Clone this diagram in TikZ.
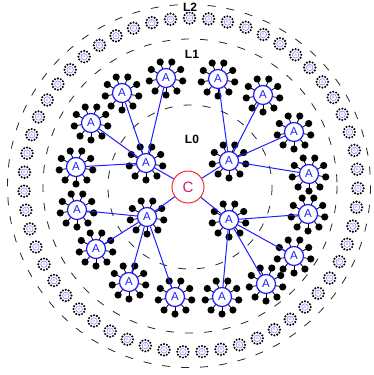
\documentclass[tikz,border=0pt]{standalone}
\usepackage{fontspec}
\setmainfont{Liberation Sans}
\usetikzlibrary{calc}
\definecolor{ablue}{RGB}{30,30,255}
\definecolor{lblue}{RGB}{120,120,255}
\definecolor{cred}{RGB}{255,40,40}
\definecolor{cmag}{RGB}{200,30,110}
\begin{document}
\begin{tikzpicture}[x=1pt,y=-1pt,
  anode/.style={circle,draw=ablue,line width=1.2pt,fill=white,inner sep=0pt,minimum size=19pt,text=ablue,font=\fontsize{11.5}{11.5}\selectfont},
  snode/.style={circle,draw=lblue,line width=0.5pt,fill=white,inner sep=0pt,minimum size=6.5pt,text=lblue,font=\fontsize{3.8}{3.8}\selectfont},
  cnode/.style={circle,draw=cred,line width=1pt,fill=white,minimum size=32pt,inner sep=0pt,text=cmag,font=\fontsize{15}{15}\selectfont},
  link/.style={draw=ablue,line width=1pt},
  spoke/.style={draw=black,line width=0.8pt},
  ring/.style={draw=black!85,line width=0.8pt,dash pattern=on 8pt off 11pt},
  lbl/.style={font=\bfseries\fontsize{12}{12}\selectfont,fill=white,inner sep=1pt}
]
\useasboundingbox (0,0) rectangle (374,375);
% dashed level circles
\draw[ring] (190,187) circle (82);
\draw[ring] (190,186) circle (147);
\draw[ring] (189,186) circle (181.5);
% L2 ring of small nodes
\foreach \i in {0,...,54} {
  \pgfmathsetmacro\ang{90.5+\i*6.545454}
  \coordinate (p\i) at ({191+167*cos(\ang)},{185-167*sin(\ang)});
  \foreach \k in {0,...,11} \fill (p\i) ++(\k*30:5.7) circle (1.15);
  \node[snode] (s\i) at (p\i) {A};
}
% satellites of A nodes
\foreach \x/\y in {146/163,229/161,147/217,229/220,
  166/78,122/93,91/123,76/167,
  218/79,263/95,294/132,309/174,
  77/210,96/249,129/282,175/297,
  308/214,294/256,266/284,222/297} {
  \foreach \k in {0,...,8} {
    \draw[spoke] (\x,\y) ++(10+\k*40:9.5) -- ++(10+\k*40:5);
    \fill (\x,\y) ++(10+\k*40:17) circle (3.6);
  }
}
% centre and A nodes
\node[cnode] (c) at (188,187) {C};
\node[anode] (i1) at (146,163) {A};
\node[anode] (i2) at (229,161) {A};
\node[anode] (i3) at (147,217) {A};
\node[anode] (i4) at (229,220) {A};
\node[anode] (a11) at (166,78) {A};
\node[anode] (a12) at (122,93) {A};
\node[anode] (a13) at (91,123) {A};
\node[anode] (a14) at (76,167) {A};
\node[anode] (a21) at (218,79) {A};
\node[anode] (a22) at (263,95) {A};
\node[anode] (a23) at (294,132) {A};
\node[anode] (a24) at (309,174) {A};
\node[anode] (a31) at (77,210) {A};
\node[anode] (a32) at (96,249) {A};
\node[anode] (a33) at (129,282) {A};
\node[anode] (a34) at (175,297) {A};
\node[anode] (a41) at (308,214) {A};
\node[anode] (a42) at (294,256) {A};
\node[anode] (a43) at (266,284) {A};
\node[anode] (a44) at (222,297) {A};
% links
\foreach \i in {1,...,4} {
  \draw[link] (c) -- (i\i);
  \foreach \j in {1,...,4} \draw[link] (i\i) -- (a\i\j);
}
% level labels
\node[lbl] (L2) at (190,7) {L2};
\node[lbl] (L1) at (192,54) {L1};
\node[lbl] (L0) at (192,139) {L0};
\end{tikzpicture}
\end{document}
